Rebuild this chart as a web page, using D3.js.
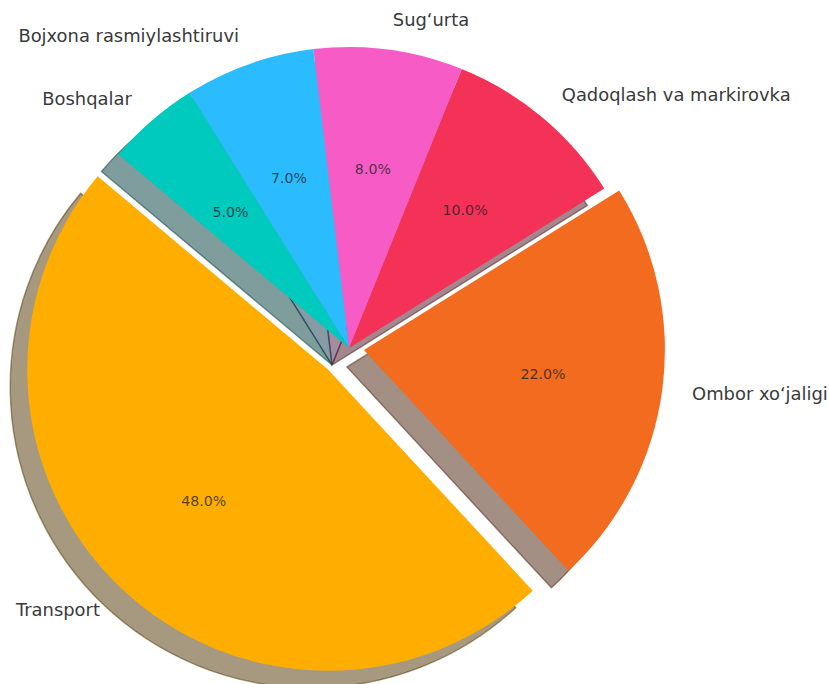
<!DOCTYPE html>
<html>
<head>
<meta charset="utf-8">
<script src="https://cdn.jsdelivr.net/npm/d3@7/dist/d3.min.js"></script>
<style>
  html, body { margin: 0; padding: 0; background: #fff; }
  svg { display: block; }
  text { font-family: "DejaVu Sans", sans-serif; }
</style>
</head>
<body>
<svg id="chart" width="829" height="684"></svg>
<script>
// ---- data ----
const categories = ["Transport", "Ombor xo\u2018jaligi", "Qadoqlash va markirovka", "Sug\u2018urta", "Bojxona rasmiylashtiruvi", "Boshqalar"];
const shares = [48, 22, 10, 8, 7, 5];
const explodes = [0.1, 0.05, 0, 0, 0, 0];
const colors = ["#FFAE00", "#F26B1F", "#F43157", "#F65BC6", "#2BBBFF", "#00C9BE"];

// ---- layout ----
const W = 829, H = 684;
const cx = 349, cy = 348, R = 301;
const startDeg = 140;             // matplotlib startangle (counter-clockwise from 3 o'clock)
const shadowOff = 17;

const svg = d3.select("#chart");
const rScale = d3.scaleLinear().domain([0, 1]).range([0, R]);

// matplotlib: counter-clockwise from startangle; d3 angle = 90deg - theta
const a0 = (90 - startDeg) * Math.PI / 180;
const pie = d3.pie().sort(null).value(d => d.v)
  .startAngle(a0).endAngle(a0 - 2 * Math.PI);

const data = categories.map((c, i) => ({ name: c, v: shares[i], ex: explodes[i], color: colors[i] }));
const arcs = pie(data);
const arc = d3.arc().innerRadius(0).outerRadius(R);

function darken(c, f) {
  const col = d3.rgb(c);
  return d3.rgb(col.r * f, col.g * f, col.b * f).formatHex();
}

arcs.forEach(a => {
  const mid = (a.startAngle + a.endAngle) / 2;
  a.mid = mid;
  const e = rScale(a.data.ex);
  a.ox = cx + Math.sin(mid) * e;
  a.oy = cy - Math.cos(mid) * e;
});

const g = svg.append("g");

// shadows (all behind wedges)
g.append("g").selectAll("path").data(arcs).join("path")
  .attr("transform", d => `translate(${d.ox - shadowOff},${d.oy + shadowOff})`)
  .attr("d", arc)
  .attr("fill", d => darken(d.data.color, 0.3))
  .attr("fill-opacity", 0.5)
  .attr("stroke", d => darken(d.data.color, 0.3))
  .attr("stroke-opacity", 0.5)
  .attr("stroke-width", 1.4);

// wedges
g.append("g").selectAll("path").data(arcs).join("path")
  .attr("transform", d => `translate(${d.ox},${d.oy})`)
  .attr("d", arc)
  .attr("fill", d => d.data.color);

// category labels at 1.1 R
g.append("g").selectAll("text").data(arcs).join("text")
  .attr("x", d => d.ox + Math.sin(d.mid) * rScale(1.1))
  .attr("y", d => d.oy - Math.cos(d.mid) * rScale(1.1))
  .attr("text-anchor", d => Math.sin(d.mid) > 0 ? "start" : "end")
  .attr("dominant-baseline", "central")
  .attr("font-size", 17.9)
  .attr("fill", "#3a3a3a")
  .text(d => d.data.name);

// percentage labels at 0.6 R
const fmt = d3.format(".1f");
g.append("g").selectAll("text").data(arcs).join("text")
  .attr("x", d => d.ox + Math.sin(d.mid) * rScale(0.6))
  .attr("y", d => d.oy - Math.cos(d.mid) * rScale(0.6))
  .attr("text-anchor", "middle")
  .attr("dominant-baseline", "central")
  .attr("font-size", 14.2)
  .attr("fill", "#222")
  .attr("fill-opacity", 0.78)
  .text(d => fmt(d.data.v) + "%");
</script>
</body>
</html>
